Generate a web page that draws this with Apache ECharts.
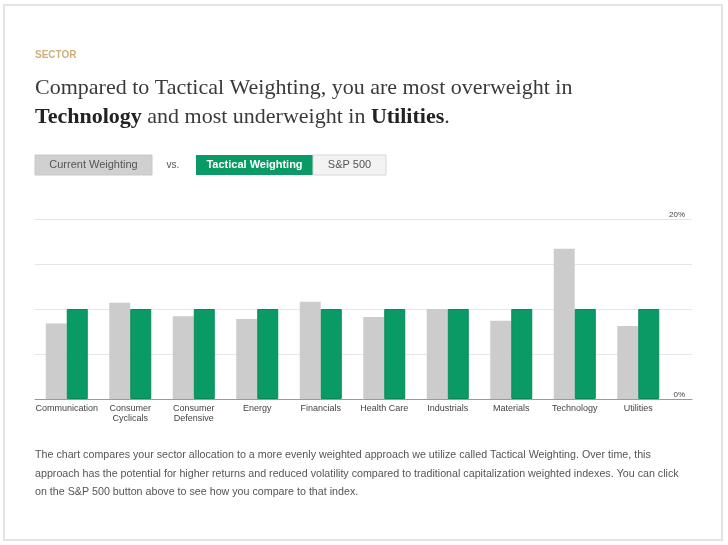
<!DOCTYPE html>
<html>
<head>
<meta charset="utf-8">
<script src="https://cdn.jsdelivr.net/npm/echarts@6/dist/echarts.min.js"></script>
<style>
html,body{margin:0;padding:0;background:#fff;}
#chart{width:728px;height:545px;}
</style>
</head>
<body>
<div id="chart"></div>
<script>
var categories = ['Communication', 'Consumer\nCyclicals', 'Consumer\nDefensive', 'Energy', 'Financials', 'Health Care', 'Industrials', 'Materials', 'Technology', 'Utilities'];
var currentWeighting = [8.4, 10.7, 9.2, 8.9, 10.8, 9.1, 10.0, 8.7, 16.7, 8.1];
var tacticalWeighting = [10, 10, 10, 10, 10, 10, 10, 10, 10, 10];
var yMin = 0, yMax = 20, yStep = 5;
var yTickLabels = { 0: '0%', 20: '20%' };

var chart = echarts.init(document.getElementById('chart'), null, { renderer: 'canvas' });
var sans = 'Liberation Sans, Arial, Helvetica, sans-serif';
var serif = 'Liberation Serif, Georgia, serif';

var option = {
  backgroundColor: '#fff',
  animation: false,
  title: [{
    text: 'SECTOR',
    left: 35, top: 50, padding: 0,
    textStyle: { fontFamily: sans, fontSize: 10, fontWeight: 'bold', color: '#cdb07a' }
  }, {
    text: 'Compared to Tactical Weighting, you are most overweight in\n{b|Technology} and most underweight in {b|Utilities}.',
    left: 35, top: 74, padding: 0,
    textStyle: {
      fontFamily: serif, fontSize: 22, fontWeight: 'normal', color: '#3a3a3a', lineHeight: 29,
      rich: { b: { fontFamily: serif, fontSize: 22, fontWeight: 'bold', color: '#222', lineHeight: 29 } }
    }
  }],
  grid: [
    { left: 35, right: 36, top: 219, bottom: 146 },
    { left: 35, right: 58, top: 219, bottom: 146 }
  ],
  xAxis: [
    { gridIndex: 0, type: 'value', min: 0, max: 1, show: true,
      axisLine: { show: true, lineStyle: { color: '#9a9a9a', width: 1 } },
      axisTick: { show: false }, axisLabel: { show: false }, splitLine: { show: false } },
    { gridIndex: 1, type: 'category', data: categories,
      axisLine: { show: false }, axisTick: { show: false },
      axisLabel: { interval: 0, fontFamily: sans, fontSize: 9, color: '#444', lineHeight: 10, margin: 5 } }
  ],
  yAxis: [
    { gridIndex: 0, type: 'value', min: yMin, max: yMax, interval: yStep, position: 'right',
      axisLine: { show: false }, axisTick: { show: false },
      splitLine: { show: true, lineStyle: { color: '#e6e6e6', width: 1 } },
      axisLabel: { inside: true, margin: 7, verticalAlign: 'bottom', fontFamily: sans, fontSize: 8, color: '#444',
        formatter: function (v) { return yTickLabels[v] || ''; } } },
    { gridIndex: 1, type: 'value', min: yMin, max: yMax, interval: yStep, show: false }
  ],
  series: [{
    name: 'Current Weighting', type: 'bar', xAxisIndex: 1, yAxisIndex: 1,
    data: currentWeighting, barWidth: 21, barGap: '0%',
    itemStyle: { color: '#cccccc' }, z: 3
  }, {
    name: 'Tactical Weighting', type: 'bar', xAxisIndex: 1, yAxisIndex: 1,
    data: tacticalWeighting, barWidth: 21, barGap: '0%',
    itemStyle: { color: '#0a9a66', borderColor: '#078a5a', borderWidth: 1 }, z: 3
  }],
  graphic: [
    { type: 'rect', z: -10, silent: true, shape: { x: 4, y: 5, width: 718, height: 535 },
      style: { fill: '#fff', stroke: '#e4e4e4', lineWidth: 2 } },
    { type: 'rect', z: 5, shape: { x: 35, y: 155, width: 117, height: 20 }, style: { fill: '#d0d0d0', stroke: '#c8c8c8', lineWidth: 1 } },
    { type: 'text', z: 6, x: 93.5, y: 165, style: { text: 'Current Weighting', fontFamily: sans, fontSize: 11, fill: '#555', align: 'center', verticalAlign: 'middle' } },
    { type: 'text', z: 6, x: 173, y: 165, style: { text: 'vs.', fontFamily: sans, fontSize: 10, fill: '#555', align: 'center', verticalAlign: 'middle' } },
    { type: 'rect', z: 5, shape: { x: 196, y: 155, width: 117, height: 20 }, style: { fill: '#0a9a66' } },
    { type: 'text', z: 6, x: 254.5, y: 165, style: { text: 'Tactical Weighting', fontFamily: sans, fontSize: 11, fontWeight: 'bold', fill: '#fff', align: 'center', verticalAlign: 'middle' } },
    { type: 'rect', z: 5, shape: { x: 313, y: 155, width: 73, height: 20 }, style: { fill: '#f3f3f3', stroke: '#d8d8d8', lineWidth: 1 } },
    { type: 'text', z: 6, x: 349.5, y: 165, style: { text: 'S&P 500', fontFamily: sans, fontSize: 11, fill: '#555', align: 'center', verticalAlign: 'middle' } },
    { type: 'text', z: 6, x: 35, y: 446, style: {
      text: 'The chart compares your sector allocation to a more evenly weighted approach we utilize called Tactical Weighting. Over time, this\napproach has the potential for higher returns and reduced volatility compared to traditional capitalization weighted indexes. You can click\non the S&P 500 button above to see how you compare to that index.',
      fontFamily: sans, fontSize: 10.7, fill: '#555', lineHeight: 18.5 } }
  ]
};
chart.setOption(option);
</script>
</body>
</html>
